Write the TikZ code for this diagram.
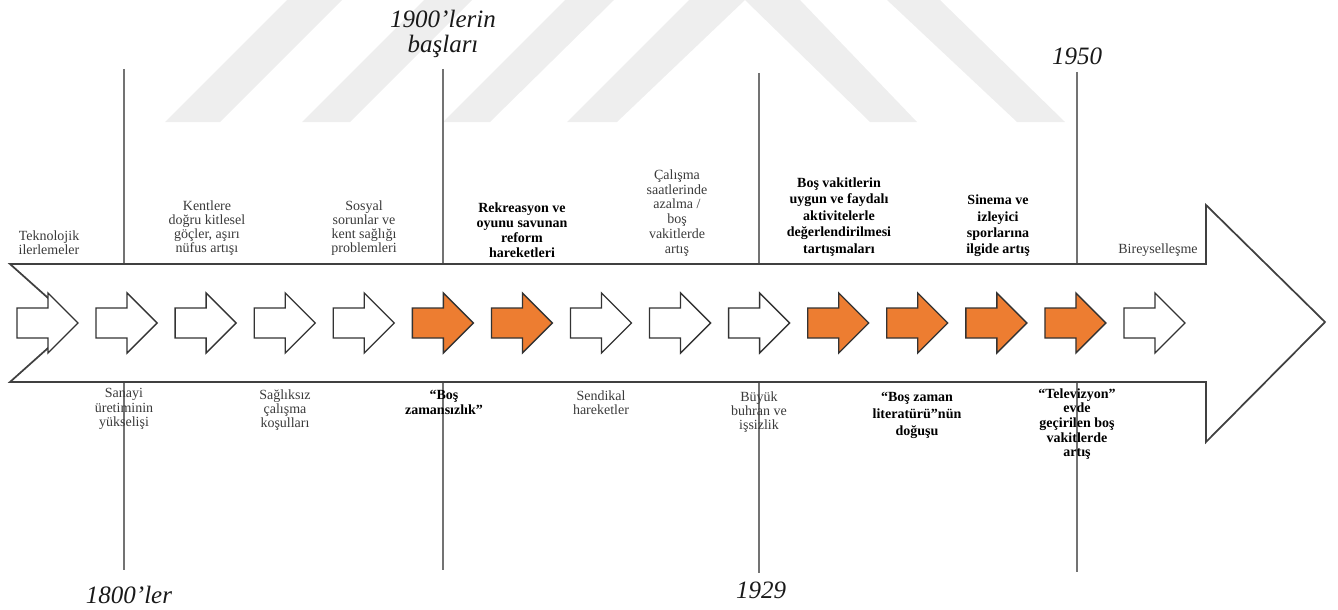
\documentclass[tikz,border=0pt]{standalone}
\usepackage{fontspec}
\setmainfont{Liberation Serif}
\definecolor{orng}{HTML}{ED7D31}
\definecolor{wm}{HTML}{EEEEEE}
\definecolor{txt}{HTML}{3A3A3A}
\begin{document}
\begin{tikzpicture}[x=0.75pt,y=-0.75pt,
  lbl/.style={font=\fontsize{10.5}{10.6}\selectfont, text=txt, align=center, inner sep=0pt},
  blbl/.style={font=\fontsize{10.5}{11.2}\selectfont\bfseries, text=black, align=center, inner sep=0pt},
  yr/.style={font=\fontsize{18.75}{18.75}\selectfont\itshape, text=black!90, align=center, inner sep=0pt},
  vline/.style={draw=black!55, line width=0.8pt},
  bigarrow/.style={draw=black!75, fill=white, line width=1.3pt, line join=miter},
  smallw/.style={draw=black!80, fill=white, line width=1pt},
  smallo/.style={draw=black!80, fill=orng, line width=1pt},
  wmark/.style={fill=wm, draw=none}]
\useasboundingbox (0,0) rectangle (1338,610);

% watermark
\fill[wmark] (165,122) -- (220,122) -- (342,0) -- (287,0) -- cycle;
\fill[wmark] (302,122) -- (350,122) -- (472,0) -- (424,0) -- cycle;
\fill[wmark] (443,122) -- (490,122) -- (614,0) -- (565,0) -- cycle;
\fill[wmark] (567,122) -- (689,0) -- (800,0) -- (917,122) -- (870,122) -- (745,0) -- (617,122) -- cycle;
\fill[wmark] (887,0) -- (940,0) -- (1065,122) -- (1017,122) -- cycle;

% vertical time lines
\coordinate (v1t) at (124,69);  \coordinate (v1b) at (124,570);
\coordinate (v2t) at (443,69);  \coordinate (v2b) at (443,570);
\coordinate (v3t) at (759,73);  \coordinate (v3b) at (759,573);
\coordinate (v4t) at (1077,72); \coordinate (v4b) at (1077,572);
\draw[vline] (v1t) -- (v1b);
\draw[vline] (v2t) -- (v2b);
\draw[vline] (v3t) -- (v3b);
\draw[vline] (v4t) -- (v4b);

% big arrow
\draw[bigarrow] (10,264) -- (1206,264) -- (1206,205) -- (1325,322) -- (1206,442) -- (1206,382) -- (10,382) -- (76,323) -- cycle;

% small arrows
\foreach \i/\st in {0/smallw,1/smallw,2/smallw,3/smallw,4/smallw,5/smallo,6/smallo,7/smallw,8/smallw,9/smallw,10/smallo,11/smallo,12/smallo,13/smallo,14/smallw}{
  \pgfmathsetmacro\xx{17+79.07*\i}
  \draw[\st] (\xx,308) -- ++(31,0) -- ++(0,-15) -- ++(30,30) -- ++(-30,30) -- ++(0,-15) -- ++(-31,0) -- cycle;
}

% years
\node[yr] (y1900) at (443,34) {1900’lerin\\başları};
\node[yr] (y1950) at (1077,56) {1950};
\node[yr] (y1800) at (129,595) {1800’ler};
\node[yr] (y1929) at (761,590) {1929};

% upper labels
\node[lbl] (u1) at (49,243) {Teknolojik\\ilerlemeler};
\node[lbl] (u2) at (207,228) {Kentlere\\doğru kitlesel\\göçler, aşırı\\nüfus artışı};
\node[lbl] (u3) at (364,228) {Sosyal\\sorunlar ve\\kent sağlığı\\problemleri};
\node[blbl] (u4) at (522,230) {Rekreasyon ve\\oyunu savunan\\reform\\hareketleri};
\node[lbl, font=\fontsize{10.5}{11.1}\selectfont] (u5) at (677,213) {Çalışma\\saatlerinde\\azalma /\\boş\\vakitlerde\\artış};
\node[blbl, font=\fontsize{10.5}{12.4}\selectfont\bfseries] (u6) at (839,217) {Boş vakitlerin\\uygun ve faydalı\\aktivitelerle\\değerlendirilmesi\\tartışmaları};
\node[blbl, font=\fontsize{10.5}{12.2}\selectfont\bfseries] (u7) at (998,226) {Sinema ve\\izleyici\\sporlarına\\ilgide artış};
\node[lbl] (u8) at (1158,250) {Bireyselleşme};

% lower labels
\node[lbl] (d1) at (124,409) {Sanayi\\üretiminin\\yükselişi};
\node[lbl] (d2) at (285,410) {Sağlıksız\\çalışma\\koşulları};
\node[blbl] (d3) at (444,402) {“Boş\\zamansızlık”};
\node[lbl] (d4) at (601,403) {Sendikal\\hareketler};
\node[lbl] (d5) at (759,412) {Büyük\\buhran ve\\işsizlik};
\node[blbl, font=\fontsize{10.5}{12.75}\selectfont\bfseries] (d6) at (917,415) {“Boş zaman\\literatürü”nün\\doğuşu};
\node[blbl, font=\fontsize{10.5}{11}\selectfont\bfseries] (d7) at (1077,424) {“Televizyon”\\evde\\geçirilen boş\\vakitlerde\\artış};
\end{tikzpicture}
\end{document}
